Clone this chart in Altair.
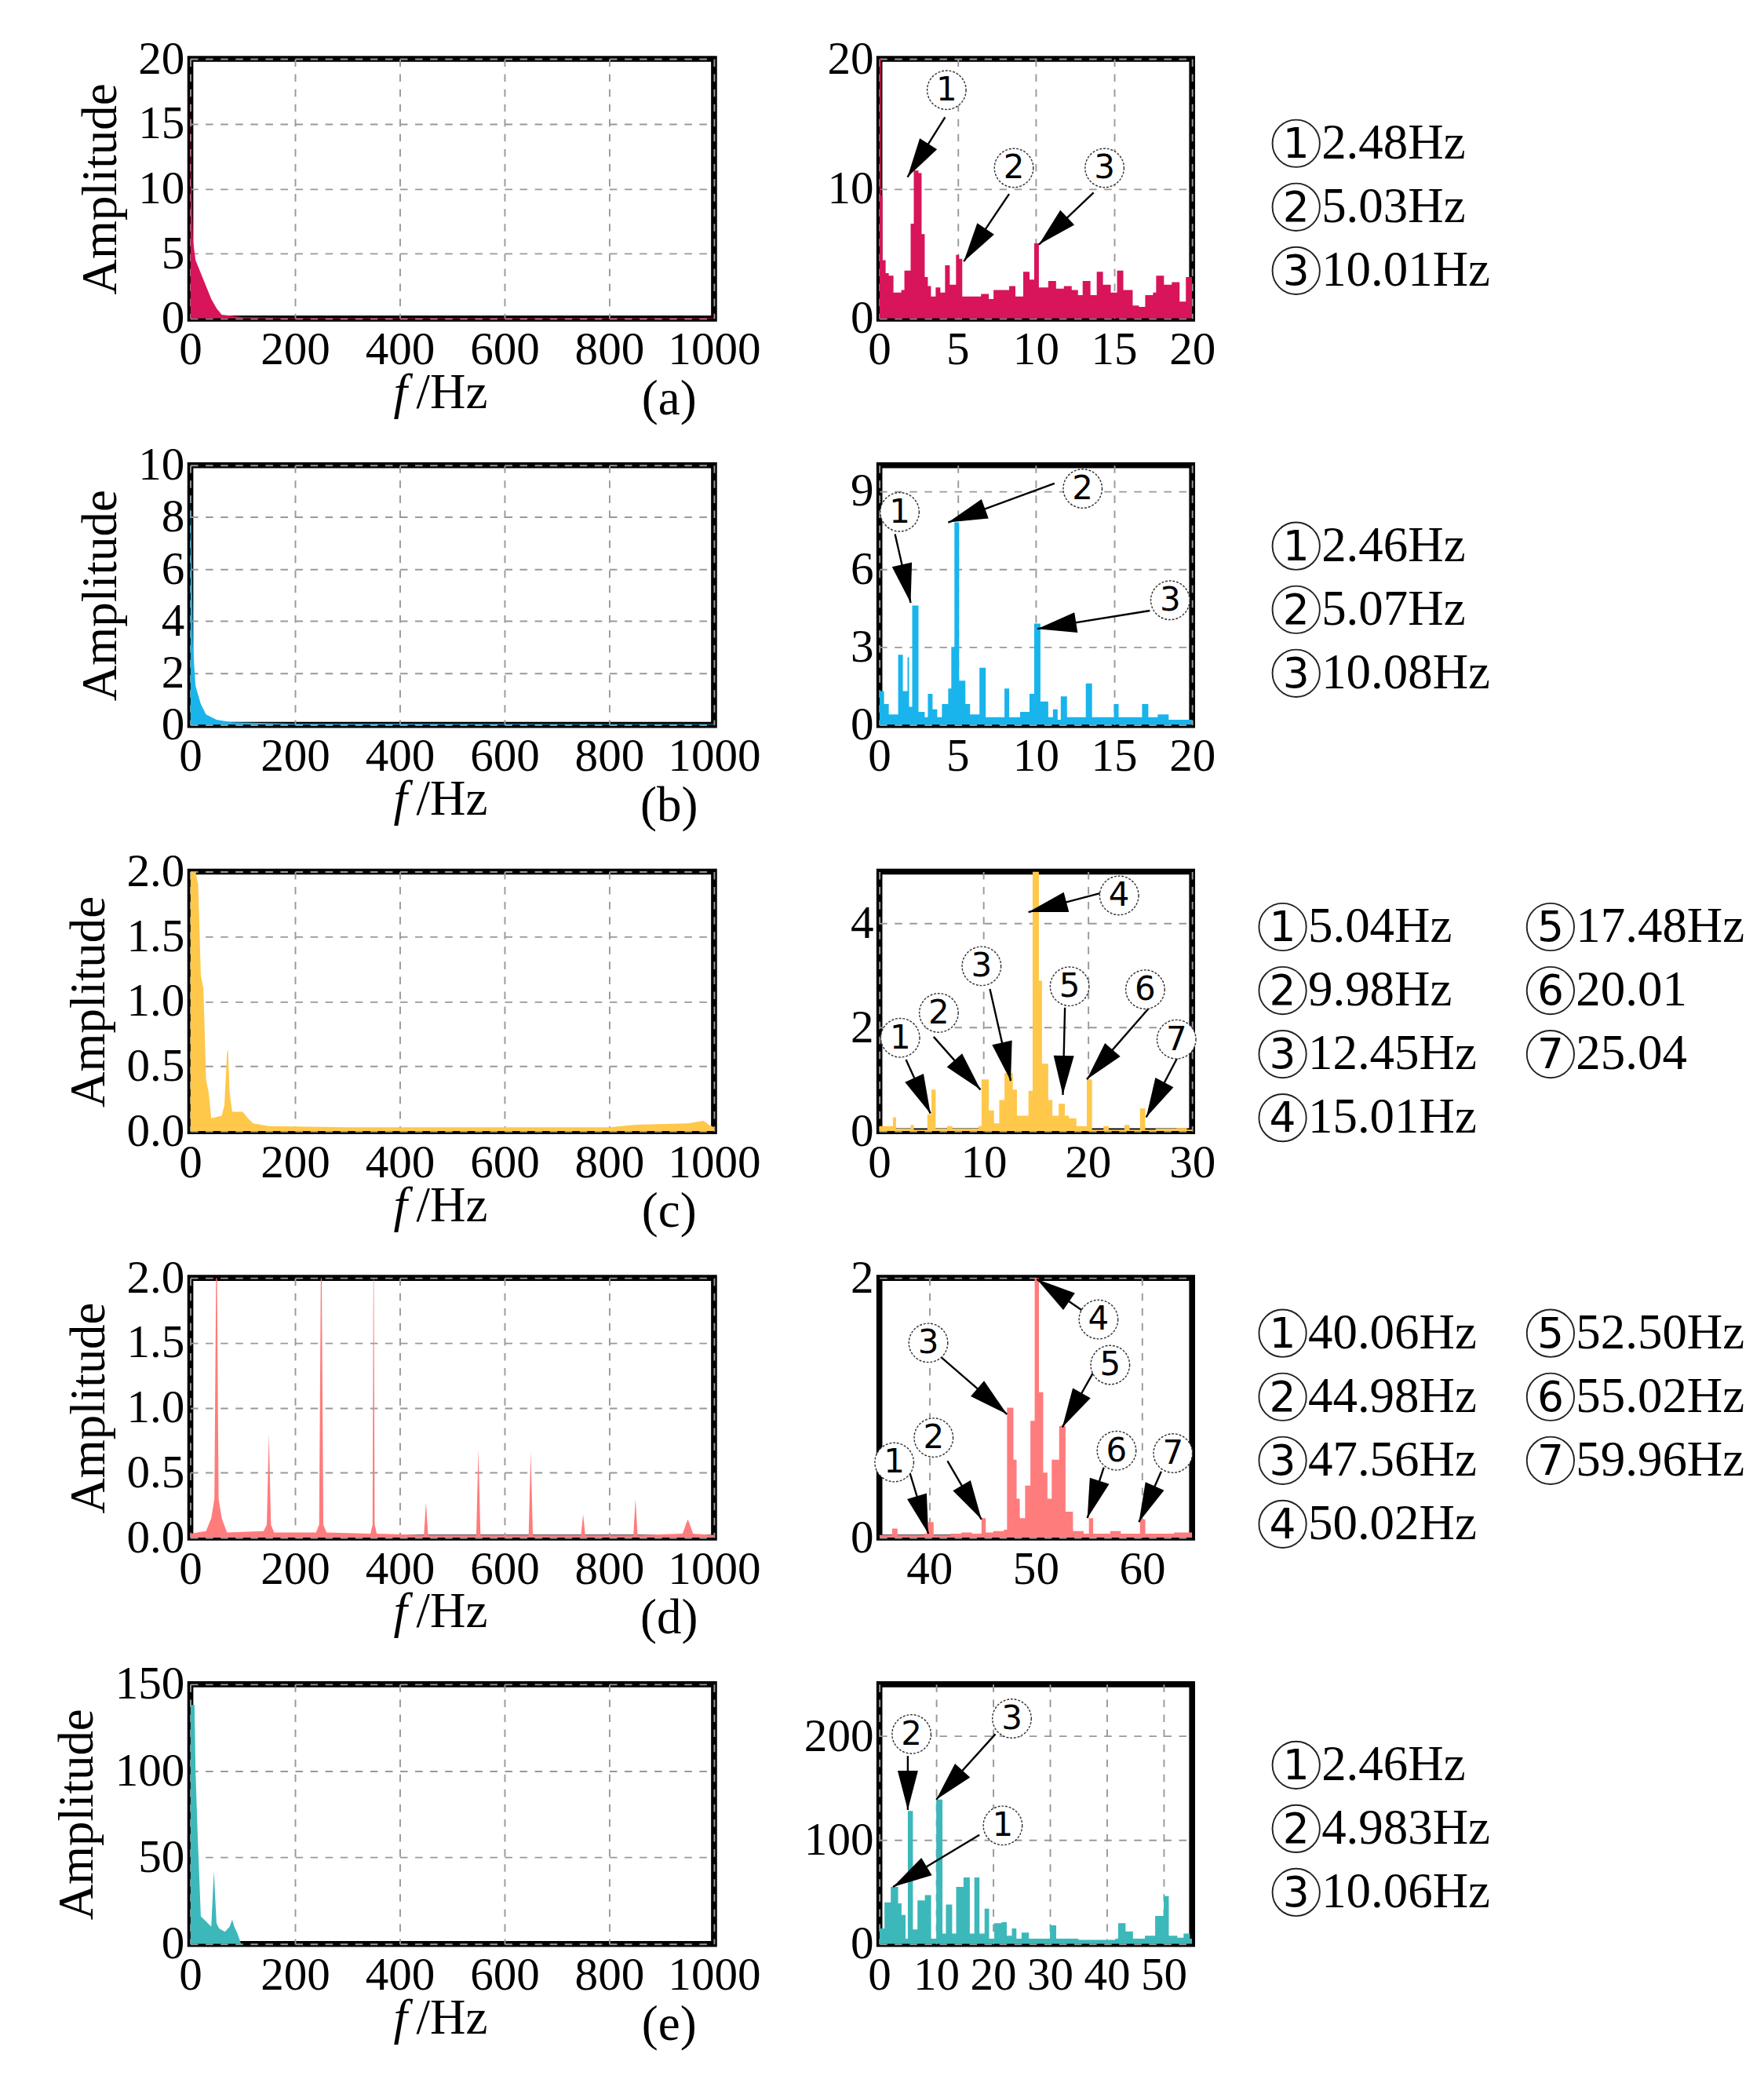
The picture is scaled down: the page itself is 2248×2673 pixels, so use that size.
import math
import altair as alt
import pandas as pd

FONT = "Liberation Serif"
LW, RW, H = 700, 418, 347
TW = 650

# ---------------- data ----------------
colors = ["#D8145A", "#19B4EC", "#FFC84A", "#FF7C7C", "#3DB8BA"]
panel_tags = ["(a)", "(b)", "(c)", "(d)", "(e)"]

# left spectra (f in Hz, amplitude)
left_a_f = [0, 2, 5, 10, 20, 30, 40, 50, 60, 80, 100, 200, 1000]
left_a_y = [18, 11, 6, 4.5, 3.5, 2.5, 1.5, 0.8, 0.3, 0.2, 0.1, 0.05, 0.05]
left_b_f = [0, 2, 5, 10, 20, 30, 50, 80, 200, 1000]
left_b_y = [9, 7.5, 3, 1.5, 0.8, 0.4, 0.2, 0.1, 0.05, 0.03]
left_c_f = [0, 10, 15, 20, 25, 30, 35, 40, 60, 65, 70, 72, 75, 80, 100, 110, 120, 150, 300, 800, 850, 950, 980, 990, 1000]
left_c_y = [2.0, 2.0, 1.9, 1.2, 1.1, 0.4, 0.3, 0.1, 0.12, 0.2, 0.6, 0.63, 0.3, 0.15, 0.15, 0.1, 0.06, 0.04, 0.03, 0.03, 0.05, 0.06, 0.08, 0.05, 0.03]
left_d_f = [0, 30, 40, 46, 50, 54, 60, 70, 140, 146, 150, 154, 160, 240, 246, 250, 254, 260, 344, 348, 350, 352, 356,
            446, 450, 454, 546, 550, 554, 646, 650, 654, 746, 750, 754, 846, 850, 854, 940, 946, 950, 954, 960, 1000]
left_d_y = [0.03, 0.05, 0.15, 0.3, 2.5, 0.3, 0.15, 0.04, 0.05, 0.1, 0.8, 0.1, 0.04, 0.04, 0.1, 2.5, 0.1, 0.04, 0.03, 0.1, 2.5, 0.1, 0.03,
            0.02, 0.27, 0.02, 0.02, 0.68, 0.02, 0.02, 0.66, 0.02, 0.02, 0.18, 0.02, 0.02, 0.3, 0.02, 0.03, 0.1, 0.14, 0.1, 0.03, 0.02]
left_e_f = [0, 8, 10, 14, 20, 30, 40, 45, 50, 55, 66, 75, 80, 84, 90, 97, 1000]
left_e_y = [138, 138, 100, 63, 16, 13, 10, 42, 12, 9, 7, 10, 14, 10, 6, 0, 0]

# right (zoomed) spectra
right_a_f = [0, 0.1, 0.2, 0.4, 0.6, 0.9, 1.4, 1.6, 2.0, 2.2, 2.5, 2.7, 2.9, 3.1, 3.3, 3.6, 3.9, 4.2, 4.5, 4.9, 5.1, 5.3, 6, 6.5, 7,
             7.3, 8, 8.3, 8.7, 9.2, 9.6, 9.9, 10.2, 10.8, 11.3, 11.8, 12.3, 12.7, 13, 13.5, 13.9, 14.3, 14.8, 15.2, 15.6, 16.2,
             16.6, 17, 17.5, 17.7, 18.2, 18.7, 19.2, 19.6, 20]
right_a_y = [20, 9.5, 4.5, 3.5, 3.3, 2.0, 2.2, 3.7, 7.3, 11.4, 11.2, 6.5, 3.2, 2.5, 1.7, 2.4, 2.0, 4.1, 2.6, 4.9, 4.6, 1.7, 1.7, 1.9, 1.5,
             2.2, 2.2, 2.5, 1.7, 3.6, 3.0, 5.8, 2.4, 2.9, 2.3, 2.5, 2.2, 1.8, 2.9, 1.8, 3.6, 2.6, 2.0, 3.7, 2.2, 1.0,
             0.9, 1.8, 2.0, 3.3, 2.6, 2.8, 1.3, 3.2, 3.1]
right_b_f = [0, 0.3, 0.6, 1.1, 1.2, 1.5, 1.8, 1.9, 2.1, 2.5, 2.9, 3.1, 3.4, 3.7, 4.0, 4.4, 4.6, 4.8, 5.1, 5.5, 5.8, 6.4, 6.8, 7.5,
             8.0, 8.3, 9, 9.6, 9.9, 10.3, 10.8, 11.1, 11.4, 11.6, 12, 12.5, 13.2, 13.6, 14.5, 15, 15.3, 16.5, 16.8, 17.2, 17.8,
             18.5, 19.3, 20]
right_b_y = [1.3, 0.8, 0.4, 0.4, 2.7, 1.3, 2.6, 0.7, 4.6, 0.5, 0.3, 1.2, 0.6, 0.3, 0.8, 1.4, 3.0, 7.8, 1.7, 0.8, 0.4, 2.2, 0.3, 0.3,
             1.4, 0.3, 0.5, 1.2, 3.9, 0.9, 0.3, 0.6, 0.2, 1.1, 0.3, 0.3, 1.6, 0.3, 0.3, 0.8, 0.3, 0.3, 0.8, 0.3, 0.4,
             0.2, 0.2, 0.35]
right_c_f = [0, 1.1, 1.3, 1.6, 2.5, 3.0, 3.3, 4.6, 5.0, 5.4, 6.5, 7, 9.5, 9.8, 10.5, 11, 11.5, 12.0, 12.8, 13.2, 13.8, 14.3, 14.7,
             15.3, 15.6, 16.2, 16.6, 17.2, 17.8, 18.2, 18.9, 19.9, 20.4, 21.5, 22, 23.5, 24, 25, 25.5, 26.5, 28.5, 29.5, 30]
right_c_y = [0.1, 0.1, 0.27, 0.05, 0.05, 0.12, 0.03, 0.32, 0.8, 0.05, 0.1, 0.05, 0.1, 1.0, 0.4, 0.15, 0.6, 1.12, 0.8, 0.3, 0.3, 0.78, 5,
             2.9, 1.3, 0.6, 0.3, 0.53, 0.3, 0.25, 0.1, 1.0, 0.03, 0.1, 0.03, 0.12, 0.03, 0.44, 0.03, 0.05, 0.06, 0.03, 0.1]
right_d_f = [35.3, 36.5, 37, 39.5, 39.9, 40.4, 42, 43, 44, 44.9, 45.3, 46, 47, 47.3, 47.9, 48.2, 48.5, 49, 49.5, 49.9, 50.3, 50.7,
             51.1, 51.5, 52.2, 52.8, 53.5, 54.5, 55.0, 55.4, 57, 58, 59.8, 60.3, 63, 64.7]
right_d_y = [0.02, 0.07, 0.02, 0.03, 0.12, 0.02, 0.03, 0.04, 0.03, 0.15, 0.04, 0.05, 0.06, 1.0, 0.6, 0.3, 0.15, 0.4, 0.9, 2.0, 1.12, 0.5,
             0.3, 0.6, 0.86, 0.2, 0.05, 0.03, 0.15, 0.03, 0.05, 0.03, 0.14, 0.03, 0.04, 0.02]
right_e_f = [0, 0.9, 2.0, 2.4, 3.3, 3.9, 4.6, 5.0, 5.9, 6.7, 8.0, 9.1, 10.0, 11.1, 11.7, 12.8, 13.5, 14.8, 15.9, 16.7, 17.6, 18.5,
             19.3, 20.2, 21.5, 22.4, 23.3, 24.1, 25, 26.3, 28.5, 30, 31.1, 35, 41.5, 42, 43.3, 44.6, 46.7, 48.5, 50, 50.9, 52.4,
             53.5, 54.6, 55]
right_e_y = [15, 40, 55, 55, 39, 28, 5, 128, 14, 42, 47, 5, 139, 10, 38, 10, 55, 64, 10, 64, 10, 34,
             5, 20, 21, 8, 15, 5, 11, 5, 5, 18, 5, 4, 5, 20, 12, 5, 8, 27, 46, 8, 6,
             10, 5, 5]

# annotations: label centre, arrow start, arrow tip (data coords)
ann = [
    dict(num=["1", "2", "3"],
         lab=[(4.3, 17.6), (8.6, 11.6), (14.4, 11.6)],
         st=[(4.2, 15.5), (8.3, 9.6), (13.7, 9.7)],
         tip=[(1.8, 10.9), (5.4, 4.4), (10.2, 5.7)]),
    dict(num=["1", "2", "3"],
         lab=[(1.3, 8.2), (13.0, 9.1), (18.6, 4.8)],
         st=[(1.0, 7.35), (11.2, 9.3), (17.3, 4.4)],
         tip=[(2.0, 4.7), (4.4, 7.8), (10.1, 3.7)]),
    dict(num=["1", "2", "3", "4", "5", "6", "7"],
         lab=[(2.0, 1.8), (5.7, 2.28), (9.8, 3.18), (23, 4.54), (18.25, 2.79), (25.5, 2.73), (28.5, 1.77)],
         st=[(2.55, 1.38), (5.2, 1.82), (10.6, 2.74), (21.3, 4.59), (17.8, 2.38), (25.9, 2.38), (28.7, 1.46)],
         tip=[(4.9, 0.34), (9.7, 0.8), (12.6, 0.97), (14.3, 4.22), (17.6, 0.7), (19.9, 1.0), (25.6, 0.27)]),
    dict(num=["1", "2", "3", "4", "5", "6", "7"],
         lab=[(36.7, 0.58), (40.4, 0.77), (39.9, 1.5), (55.9, 1.68), (57, 1.33), (57.6, 0.67), (62.9, 0.65)],
         st=[(37.9, 0.57), (41.7, 0.59), (41.1, 1.39), (54.7, 1.73), (55.4, 1.27), (56.4, 0.54), (61.8, 0.51)],
         tip=[(39.9, 0.03), (44.9, 0.14), (47.3, 0.95), (50.1, 1.99), (52.5, 0.85), (54.85, 0.15), (59.7, 0.12)]),
    dict(num=["2", "3", "1"],
         lab=[(5.65, 202), (23.3, 217), (21.7, 114)],
         st=[(5.0, 181), (20.4, 202), (17.6, 105)],
         tip=[(5.0, 129), (10.0, 139), (2.4, 55)]),
]

legend_nums = [["1", "2", "3"], ["1", "2", "3"], ["1", "2", "3", "4", "5", "6", "7"],
               ["1", "2", "3", "4", "5", "6", "7"], ["1", "2", "3"]]
legend_txt = [["2.48Hz", "5.03Hz", "10.01Hz"],
              ["2.46Hz", "5.07Hz", "10.08Hz"],
              ["5.04Hz", "9.98Hz", "12.45Hz", "15.01Hz", "17.48Hz", "20.01", "25.04"],
              ["40.06Hz", "44.98Hz", "47.56Hz", "50.02Hz", "52.50Hz", "55.02Hz", "59.96Hz"],
              ["2.46Hz", "4.983Hz", "10.06Hz"]]

left_specs = [
    (left_a_f, left_a_y, [0, 20], [0, 5, 10, 15, 20], "d"),
    (left_b_f, left_b_y, [0, 10], [0, 2, 4, 6, 8, 10], "d"),
    (left_c_f, left_c_y, [0, 2], [0, 0.5, 1, 1.5, 2], ".1f"),
    (left_d_f, left_d_y, [0, 2], [0, 0.5, 1, 1.5, 2], ".1f"),
    (left_e_f, left_e_y, [0, 150], [0, 50, 100, 150], "d"),
]
right_specs = [
    (right_a_f, right_a_y, [0, 20], [0, 5, 10, 15, 20], [0, 20], [0, 10, 20]),
    (right_b_f, right_b_y, [0, 20], [0, 5, 10, 15, 20], [0, 10], [0, 3, 6, 9]),
    (right_c_f, right_c_y, [0, 30], [0, 10, 20, 30], [0, 5], [0, 2, 4]),
    (right_d_f, right_d_y, [35.3, 64.7], [40, 50, 60], [0, 2], [0, 1, 2]),
    (right_e_f, right_e_y, [0, 55], [0, 10, 20, 30, 40, 50], [0, 250], [0, 100, 200]),
]

FRAME = alt.ViewBackground(stroke="black", strokeWidth=8, fill="white")

# ---------------- helpers ----------------
def axis_x(vals, fmt="d"):
    return alt.Axis(values=vals, format=fmt, title=None, ticks=False, labelFontSize=62, labelFont=FONT,
                    labelPadding=12, labelOverlap=False, labelFlush=False, labelColor="black",
                    grid=True, gridDash=[10, 10], gridColor="#999", gridWidth=2, domain=False)

def axis_y(vals, fmt, title):
    a = dict(values=vals, format=fmt, ticks=False, labelFontSize=62, labelFont=FONT, labelPadding=8,
             labelColor="black", labelFlush=False, labelOverlap=False,
             grid=True, gridDash=[10, 10], gridColor="#999", gridWidth=2, domain=False)
    if title:
        a.update(title="Amplitude", titleFontSize=66, titleFont=FONT, titleFontWeight="normal",
                 titleColor="black", titlePadding=16)
    else:
        a.update(title=None)
    return alt.Axis(**a)

def left_chart(i):
    fs, ys, ydom, yt, fmt = left_specs[i]
    df = pd.DataFrame({"f": fs, "a": ys})
    base = alt.Chart(df).mark_area(color=colors[i], clip=True, opacity=1).encode(
        x=alt.X("f:Q", scale=alt.Scale(domain=[0, 1000], nice=False), axis=axis_x([0, 200, 400, 600, 800, 1000])),
        y=alt.Y("a:Q", scale=alt.Scale(domain=ydom, nice=False), axis=axis_y(yt, fmt, True)),
    )
    one = pd.DataFrame({"k": [0]})
    t_f = alt.Chart(one).mark_text(text="f", font=FONT, fontSize=66, fontStyle="italic", align="right",
                                   baseline="middle", color="black").encode(
        x=alt.value(290), y=alt.value(H + 100))
    t_hz = alt.Chart(one).mark_text(text="/Hz", font=FONT, fontSize=66, align="left",
                                    baseline="middle", color="black").encode(
        x=alt.value(302), y=alt.value(H + 100))
    t_tag = alt.Chart(one).mark_text(text=panel_tags[i], font=FONT, fontSize=66, align="center",
                                     baseline="middle", color="black").encode(
        x=alt.value(640), y=alt.value(H + 108))
    return alt.layer(base, t_f, t_hz, t_tag).properties(width=LW, height=H, view=FRAME)

def right_chart(i):
    fs, ys, xdom, xt, ydom, yt = right_specs[i]
    xs = alt.Scale(domain=xdom, nice=False, zero=False)
    ysc = alt.Scale(domain=ydom, nice=False)
    ax, ay = axis_x(xt), axis_y(yt, "d", False)
    df = pd.DataFrame({"f": fs, "a": ys})
    base = alt.Chart(df).mark_area(color=colors[i], clip=True, opacity=1, interpolate="step-after").encode(
        x=alt.X("f:Q", scale=xs, axis=ax),
        y=alt.Y("a:Q", scale=ysc, axis=ay),
    )
    A = ann[i]
    px = RW / (xdom[1] - xdom[0])
    py = H / (ydom[1] - ydom[0])
    rows = []
    for n, (lx, ly), (sx, sy), (tx, ty) in zip(A["num"], A["lab"], A["st"], A["tip"]):
        dxs = (tx - sx) * px
        dys = -(ty - sy) * py
        ang = math.degrees(math.atan2(dxs, -dys)) % 360
        rows.append(dict(n=n, lx=lx, ly=ly, sx=sx, sy=sy, tx=tx, ty=ty, ang=ang))
    adf = pd.DataFrame(rows)
    line = alt.Chart(adf).mark_rule(color="black", strokeWidth=2.5).encode(
        x=alt.X("sx:Q", scale=xs, axis=ax), y=alt.Y("sy:Q", scale=ysc, axis=ay), x2="tx:Q", y2="ty:Q")
    head = alt.Chart(adf).mark_point(shape="M0,0 L-0.26,1 L0.26,1 Z", filled=True, color="black",
                                     size=11000, opacity=1).encode(
        x=alt.X("tx:Q", scale=xs, axis=ax), y=alt.Y("ty:Q", scale=ysc, axis=ay),
        angle=alt.Angle("ang:Q", scale=None))
    circ = alt.Chart(adf).mark_point(shape="circle", filled=True, fill="white", stroke="#333",
                                     strokeWidth=1.5, strokeDash=[3, 2], size=2700, opacity=1).encode(
        x=alt.X("lx:Q", scale=xs, axis=ax), y=alt.Y("ly:Q", scale=ysc, axis=ay))
    dig = alt.Chart(adf).mark_text(font="DejaVu Sans", fontSize=44, color="black", baseline="middle",
                                   align="center", dy=1).encode(
        x=alt.X("lx:Q", scale=xs, axis=ax), y=alt.Y("ly:Q", scale=ysc, axis=ay), text="n:N")
    return alt.layer(base, line, head, circ, dig).properties(width=RW, height=H, view=FRAME)

def text_chart(i):
    nums, txts = legend_nums[i], legend_txt[i]
    rows = []
    if len(nums) == 3:
        top = 113 if i == 0 else 108
        for k, (n, t) in enumerate(zip(nums, txts)):
            rows.append(dict(n=n, t=t, cx=38, tx=72, y=top + 85 * k))
    else:
        for k, (n, t) in enumerate(zip(nums, txts)):
            col, r = (0, k) if k < 4 else (1, k - 4)
            cx = 20 if col == 0 else 378
            rows.append(dict(n=n, t=t, cx=cx, tx=cx + 34, y=74 + 85 * r))
    df = pd.DataFrame(rows)
    xs = alt.Scale(domain=[0, TW], range=[0, TW])
    ys = alt.Scale(domain=[0, H], range=[0, H])
    circ = alt.Chart(df).mark_point(shape="circle", filled=False, stroke="#222", strokeWidth=2,
                                    size=4000, opacity=1).encode(
        x=alt.X("cx:Q", scale=xs, axis=None), y=alt.Y("y:Q", scale=ys, axis=None))
    dig = alt.Chart(df).mark_text(font="DejaVu Sans", fontSize=56, color="black", baseline="middle",
                                  align="center", dy=2).encode(
        x=alt.X("cx:Q", scale=xs, axis=None), y=alt.Y("y:Q", scale=ys, axis=None), text="n:N")
    txt = alt.Chart(df).mark_text(font=FONT, fontSize=66, color="black", baseline="middle",
                                  align="left").encode(
        x=alt.X("tx:Q", scale=xs, axis=None), y=alt.Y("y:Q", scale=ys, axis=None), text="t:N")
    return alt.layer(circ, dig, txt).properties(width=TW, height=H,
                                                view=alt.ViewBackground(strokeWidth=0, stroke=None))

panels = []
for i in range(5):
    panels += [left_chart(i), right_chart(i), text_chart(i)]

chart = alt.concat(*panels, columns=3, spacing={"row": 16, "column": 50}).properties(
    padding={"left": 58, "top": -30, "right": 5, "bottom": 5}
).configure(font=FONT, background="white")

chart.save("out.html", embed_options={"renderer": "svg", "actions": False})
